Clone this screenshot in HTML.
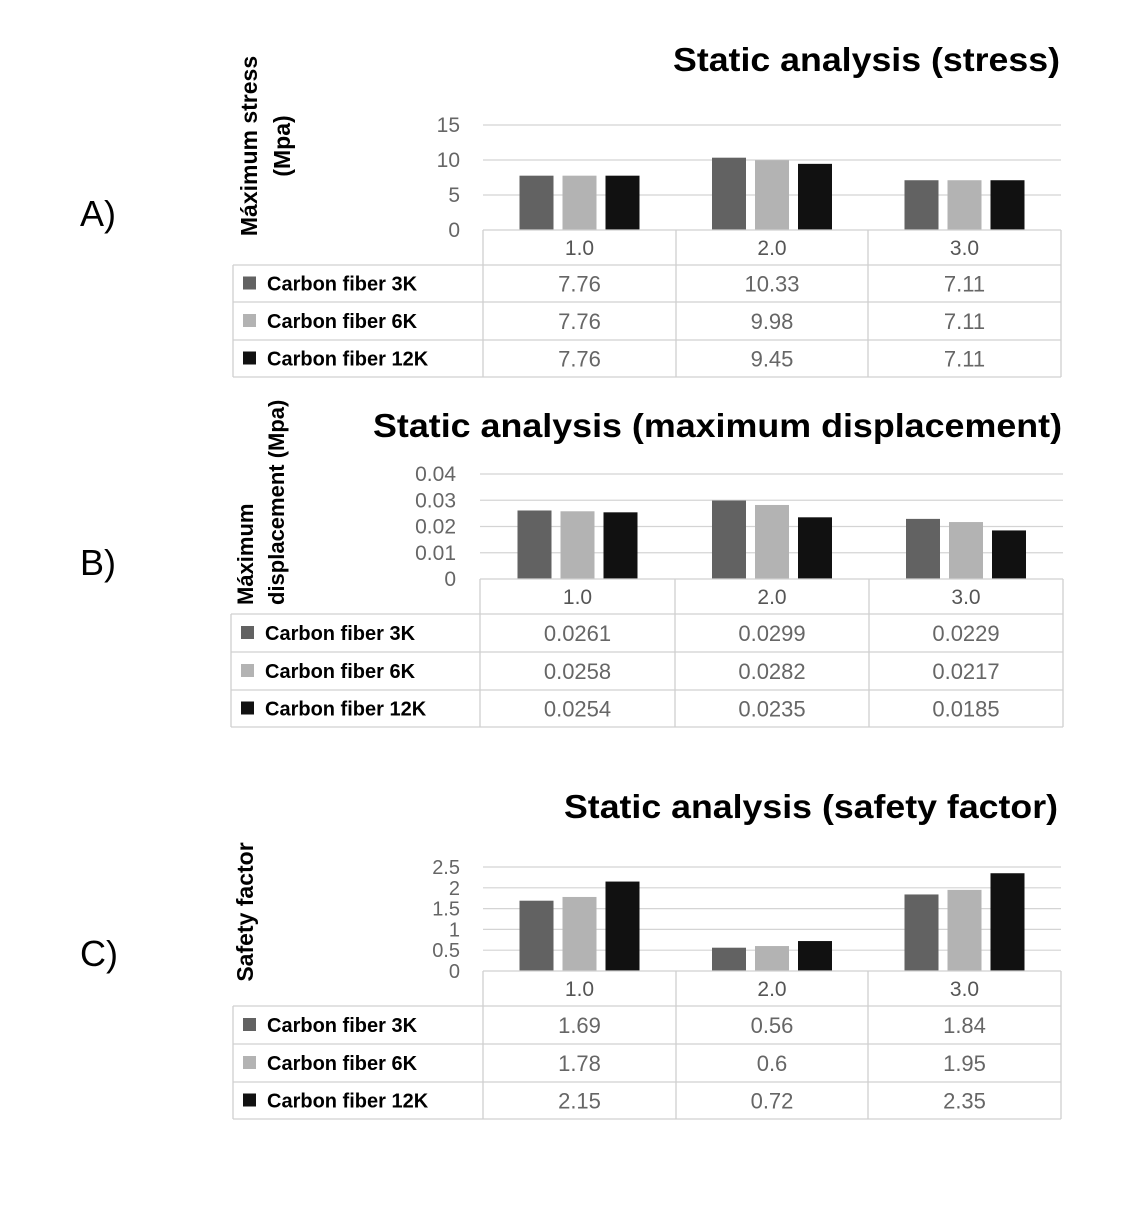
<!DOCTYPE html>
<html><head><meta charset="utf-8">
<style>
body{margin:0;background:#fff;width:1144px;height:1222px;overflow:hidden;font-family:"Liberation Sans",sans-serif}
svg{position:absolute;left:0;top:0}
</style></head>
<body>
<svg id="chart" width="1144" height="1222"></svg>
<script>
const categories = ["1.0","2.0","3.0"];
const seriesNames = ["Carbon fiber 3K","Carbon fiber 6K","Carbon fiber 12K"];
const stressValues = [[7.76,10.33,7.11],[7.76,9.98,7.11],[7.76,9.45,7.11]];
const stressLabels = [["7.76","10.33","7.11"],["7.76","9.98","7.11"],["7.76","9.45","7.11"]];
const stressTicks = ["0","5","10","15"];
const dispValues = [[0.0261,0.0299,0.0229],[0.0258,0.0282,0.0217],[0.0254,0.0235,0.0185]];
const dispLabels = [["0.0261","0.0299","0.0229"],["0.0258","0.0282","0.0217"],["0.0254","0.0235","0.0185"]];
const dispTicks = ["0","0.01","0.02","0.03","0.04"];
const safetyValues = [[1.69,0.56,1.84],[1.78,0.6,1.95],[2.15,0.72,2.35]];
const safetyLabels = [["1.69","0.56","1.84"],["1.78","0.6","1.95"],["2.15","0.72","2.35"]];
const safetyTicks = ["0","0.5","1","1.5","2","2.5"];

const NS="http://www.w3.org/2000/svg";
const svg=document.getElementById('chart');
const colors=["#626262","#b3b3b3","#111111"];
function mk(tag,attrs,parent,text){const e=document.createElementNS(NS,tag);for(const k in attrs)e.setAttribute(k,attrs[k]);if(text!==undefined)e.textContent=text;(parent||svg).appendChild(e);return e;}

function drawChart(cfg){
  const g=mk('g',{});
  
  
  const tmax=parseFloat(cfg.ticks[cfg.ticks.length-1]);
  const y=v=>cfg.y0-(v/tmax)*(cfg.y0-cfg.yTop);
  const cols=cfg.cols;
  cfg.ticks.forEach(t=>{
    const v=parseFloat(t),yy=y(v);
    if(v>0){const l=mk('line',{x1:cols[0],x2:cols[3],y1:yy,y2:yy,stroke:'#d4d4d4','stroke-width':1.2},g);
      }
    const tx=mk('text',{x:cfg.tickX,y:yy+7,'text-anchor':'end','font-size':cfg.tickSize,fill:'#666'},g,t);
    
  });
  categories.forEach((c,i)=>{
    const cx=(cols[i]+cols[i+1])/2;
    seriesNames.forEach((s,j)=>{
      const v=cfg.values[j][i];const x=cx-60+j*43;
      const r=mk('rect',{x:x,y:y(v),width:34,height:cfg.y0-y(v),fill:colors[j]},g);
      
      
    });
  });
  const R=cfg.rows; const L=cfg.left;
  const st={stroke:'#d0d0d0','stroke-width':1.3,fill:'none'};
  mk('path',Object.assign({d:`M${cols[0]} ${R[0]}V${R[4]}M${cols[1]} ${R[0]}V${R[4]}M${cols[2]} ${R[0]}V${R[4]}M${cols[3]} ${R[0]}V${R[4]}M${cols[0]} ${R[0]}H${cols[3]}M${L} ${R[1]}H${cols[3]}M${L} ${R[2]}H${cols[3]}M${L} ${R[3]}H${cols[3]}M${L} ${R[4]}H${cols[3]}M${L} ${R[1]}V${R[4]}`},st),g);
  categories.forEach((c,i)=>{
    const t=mk('text',{x:(cols[i]+cols[i+1])/2,y:R[0]+25,'text-anchor':'middle','font-size':21,fill:'#555'},g,c);
    
  });
  seriesNames.forEach((s,j)=>{
    const ry=(R[j+1]+R[j+2])/2;
    const k=mk('rect',{x:L+10,y:ry-7,width:13,height:13,fill:colors[j]},g);
    
    const t=mk('text',{x:L+34,y:ry+7,'font-size':20,'font-weight':'bold',fill:'#000'},g,s);
    
    categories.forEach((c,i)=>{
      const v=mk('text',{x:(cols[i]+cols[i+1])/2,y:ry+8,'text-anchor':'middle','font-size':22,fill:'#666'},g,cfg.labels[j][i]);
      
    });
  });
  const ti=mk('text',{x:cfg.titleX,y:cfg.titleY,'font-size':33,'font-weight':'bold',fill:'#000',textLength:cfg.titleW,lengthAdjust:'spacingAndGlyphs'},g,cfg.title);
  
  cfg.ytitle.forEach((line,k)=>{
    const t=mk('text',{transform:`translate(${cfg.ytX[k]},${cfg.ytY}) rotate(-90)`,'text-anchor':cfg.ytAnchor,'font-size':cfg.ytSize,'font-weight':'bold',fill:'#000'},g,line);
    
  });
  const pl=mk('text',{x:80,y:cfg.panelY,'font-size':36,fill:'#000'},g,cfg.panel);
  
}

drawChart({name:'stress-chart',title:'Static analysis (stress)',titleX:673,titleW:387,titleY:71,ticks:stressTicks,values:stressValues,labels:stressLabels,
  y0:230,yTop:125,cols:[483,676,868,1061],rows:[230,265,302,340,377],left:233,tickX:460,tickSize:21,
  ytitle:['Máximum stress','(Mpa)'],ytX:[257,290],ytY:146,ytAnchor:'middle',ytSize:23,panel:'A)',panelY:226});
drawChart({name:'displacement-chart',title:'Static analysis (maximum displacement)',titleX:373,titleW:689,titleY:437,ticks:dispTicks,values:dispValues,labels:dispLabels,
  y0:579,yTop:474,cols:[480,675,869,1063],rows:[579,614,652,690,727],left:231,tickX:456,tickSize:21,
  ytitle:['Máximum','displacement (Mpa)'],ytX:[253,284],ytY:605,ytAnchor:'start',ytSize:22,panel:'B)',panelY:575});
drawChart({name:'safety-factor-chart',title:'Static analysis (safety factor)',titleX:564,titleW:494,titleY:818,ticks:safetyTicks,values:safetyValues,labels:safetyLabels,
  y0:971,yTop:867,cols:[483,676,868,1061],rows:[971,1006,1044,1082,1119],left:233,tickX:460,tickSize:20,
  ytitle:['Safety factor'],ytX:[253],ytY:912,ytAnchor:'middle',ytSize:23,panel:'C)',panelY:966});
</script>
</body></html>
